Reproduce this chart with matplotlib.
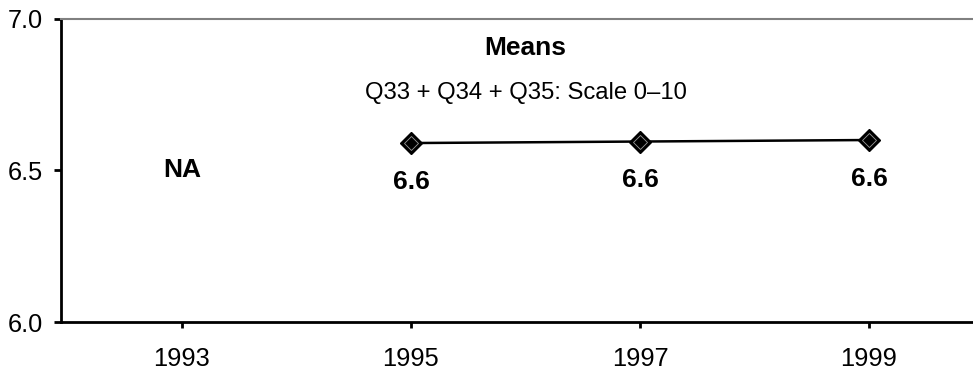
import matplotlib
matplotlib.use("Agg")
import matplotlib.pyplot as plt

plt.rcParams['font.family'] = ['Liberation Sans', 'DejaVu Sans']

years = ["1993", "1995", "1997", "1999"]
means = [None, 6.59, 6.595, 6.60]
title = "Means"
subtitle = "Q33 + Q34 + Q35: Scale 0\u201310"
na_text = "NA"
yticks = [6.0, 6.5, 7.0]

W, H = 973, 370
fig = plt.figure(figsize=(W / 100, H / 100), dpi=100)
left_px, right_px, bottom_px, top_px = 61, 973, 322, 18.7
ax = fig.add_axes([left_px / W, (H - bottom_px) / H,
                   (right_px - left_px) / W, (bottom_px - top_px) / H])

xs = [i for i, v in enumerate(means) if v is not None]
ys = [v for v in means if v is not None]

ax.plot(xs, ys, color='black', lw=1.8, zorder=3)
ax.plot(xs, ys, ls='none', marker='D', ms=11, mfc='black', mec='black', zorder=4)
ax.plot(xs, ys, ls='none', marker='D', ms=7, mfc='black', mec='#9a9a9a', mew=0.6, zorder=5)

for x, y in zip(xs, ys):
    ax.annotate(f"{y:.1f}", (x, y), xytext=(0, -28), textcoords='offset points',
                ha='center', va='center', fontsize=19, fontweight='bold')

for i, v in enumerate(means):
    if v is None:
        ax.text(i, 6.5, na_text, ha='center', va='center', fontsize=19, fontweight='bold')

ax.text(1.5, 6.905, title, ha='center', va='center', fontsize=19, fontweight='bold')
ax.text(1.5, 6.755, subtitle, ha='center', va='center', fontsize=17.2)

ax.set_xlim(-0.528, 3.454)
ax.set_ylim(6.0, 7.0)
ax.set_xticks(range(len(years)))
ax.set_xticklabels(years)
ax.set_yticks(yticks)
ax.set_yticklabels([f"{t:.1f}" for t in yticks])

ax.spines['right'].set_visible(False)
ax.spines['top'].set_color('#808080')
ax.spines['top'].set_linewidth(1.5)
ax.spines['left'].set_linewidth(2)
ax.spines['bottom'].set_linewidth(2)

ax.tick_params(axis='x', direction='out', length=4, width=2, labelsize=18.3, pad=14)
ax.tick_params(axis='y', direction='out', length=5, width=2, labelsize=18.3, pad=8)

fig.savefig("out.png", dpi=100)
